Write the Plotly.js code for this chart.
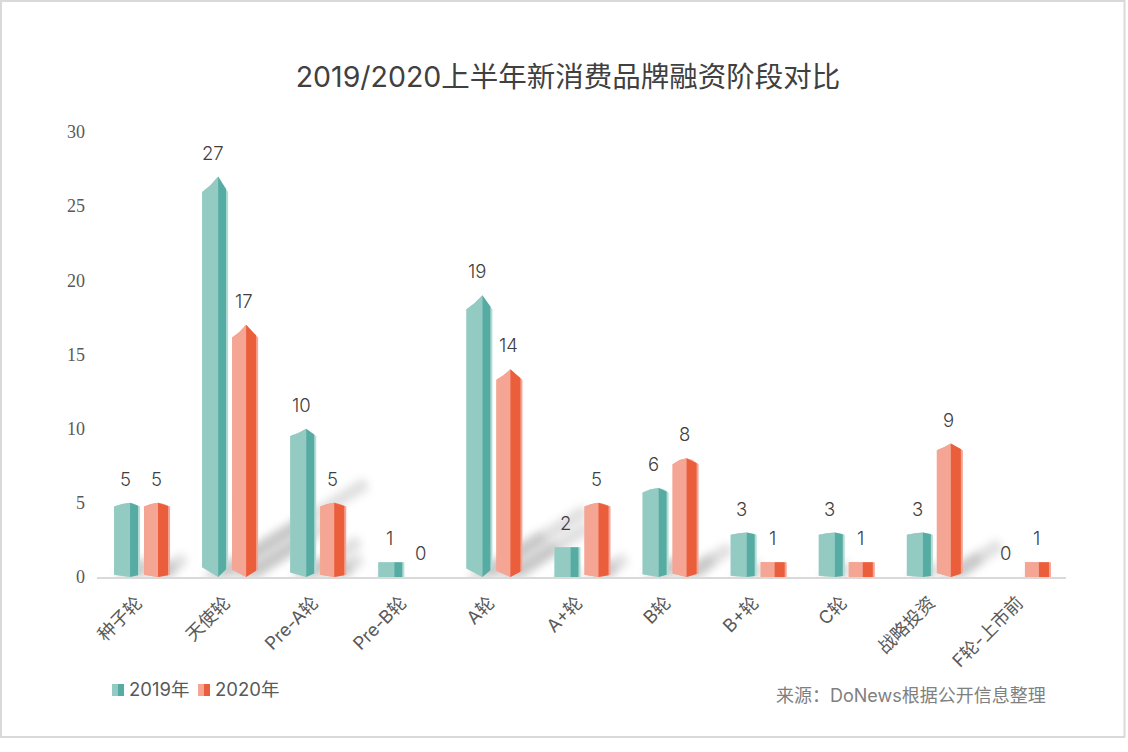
<!DOCTYPE html>
<html><head><meta charset="utf-8">
<script src="https://cdn.plot.ly/plotly-3.0.1.min.js"></script>
<style>html,body{margin:0;padding:0;background:#fff}#c{width:1128px;height:752px}</style>
</head><body><div id="c"></div>
<script>
const categories = ["种子轮","天使轮","Pre-A轮","Pre-B轮","A轮","A+轮","B轮","B+轮","C轮","战略投资","F轮-上市前"];
const values2019 = [5,27,10,1,19,2,6,3,3,3,0];
const values2020 = [5,17,5,0,14,5,8,1,1,9,1];
const seriesNames = ["2019年","2020年"];
const chartTitle = "2019/2020上半年新消费品牌融资阶段对比";
const sourceNote = "来源：DoNews根据公开信息整理";
const yTicks = [0,5,10,15,20,25,30];

const W=1128,H=752,L=97,R=1066,T=132,B=577;
const slot=(R-L)/categories.length, unit=(B-T)/30;
const px=v=>v/slot;
const CJK="Inter, 'Noto Sans CJK SC', sans-serif";
const pX=x=>(x-L)/(R-L), pY=y=>(B-y)/(B-T);

const tipOf=v=>v<3?0:Math.min(0.05*v,1.05);
const footOf=v=>v<3?0:Math.min(0.03*v,0.65);
// small bars have a rounder shoulder than tall ones
const bulge=v=>v<=8?0.7:0.42;

function polys(vals,fn){const xs=[],ys=[];vals.forEach((v,i)=>{if(!v)return;fn(v,i).forEach(p=>{xs.push(p[0]);ys.push(p[1]);});xs.push(null);ys.push(null);});return{x:xs,y:ys};}
function trace(d,color,name){return{type:'scatter',mode:'lines',x:d.x,y:d.y,fill:'toself',fillcolor:color,line:{width:0,color:color},hoverinfo:'skip',showlegend:false,name:name||''};}

// bar geometry: [left, split, darkEnd, rightEdge] in pixels from the slot centre
function bar(vals,g,cLight,cDark,cEdge){
  const [a,s,d,e]=g.map(px);
  const sh=(v,f)=>v-tipOf(v)*(1-f);
  const outline=polys(vals,(v,i)=>[[i+a,footOf(v)],[i+s,0],[i+e,footOf(v)],[i+e,v-tipOf(v)],[i+(s+e)/2,sh(v,bulge(v))],[i+s,v],[i+(a+s)/2,sh(v,bulge(v))],[i+a,v-tipOf(v)]]);
  const light=polys(vals,(v,i)=>[[i+a,footOf(v)],[i+s,0],[i+s,v],[i+(a+s)/2,sh(v,bulge(v))],[i+a,v-tipOf(v)]]);
  const dark=polys(vals,(v,i)=>{const f=(d-s)/(e-s);return[[i+s,0],[i+d,footOf(v)*f],[i+d,v-tipOf(v)*f],[i+s,v]];});
  return [trace(outline,cEdge),trace(light,cLight),trace(dark,cDark)];
}
// soft cast shadow, scaled by bar value
function shadow(vals,g,frac,halfW){
  const [a,,,e]=g.map(px), c=(a+e)/2, hw=(e-a)/2*halfW;
  return polys(vals,(v,i)=>{const dx=0.0636*v*frac, dy=0.229*v*frac;return[[i+c-hw,0],[i+c+hw,0],[i+c+dx+hw*0.25,dy-0.2],[i+c+dx-hw*0.25,dy+0.5]];});
}
const g19=[-27,-11,-3,-1], g20=[3,17,27,29];
const shadowColor='rgba(120,120,120,0.24)';
const traces=[];
[[values2019,g19],[values2020,g20]].forEach(([v,g])=>{
  traces.push(trace(shadow(v,g,1,1),shadowColor));
  traces.push(trace(shadow(v,g,0.6,1),shadowColor));
});
const shadowCount=traces.length;
traces.push(...bar(values2019,g19,'#93CBC3','#56ABA3','#B4DDD7'));
traces.push(...bar(values2020,g20,'#F4A594','#EB5E3C','#F4A594'));

const annotations=[];
const lab=(x,v)=>annotations.push({x:x,y:v,xref:'x',yref:'y',text:String(v),showarrow:false,yshift:24,yanchor:'middle',xanchor:'center',font:{family:CJK,size:18.5,color:'#404040',weight:300}});
values2019.forEach((v,i)=>lab(i+px(-16),v));
values2020.forEach((v,i)=>lab(i+px(15),v));
const note=(x,y,t,size,color,anchor)=>annotations.push({xref:'paper',yref:'paper',x:pX(x),y:pY(y),text:t,showarrow:false,xanchor:anchor,yanchor:'middle',font:{family:CJK,size:size,color:color}});
note(127,689,seriesNames[0],18.5,'#595959','left');
note(213,689,seriesNames[1],18.5,'#595959','left');
note(773.5,695,sourceNote,18,'#808080','left');

const rect=(x0,y0,x1,y1,c)=>({type:'rect',xref:'paper',yref:'paper',x0:pX(x0),x1:pX(x1),y0:pY(y0),y1:pY(y1),fillcolor:c,line:{width:0}});
const shapes=[
  {type:'rect',xref:'paper',yref:'paper',x0:pX(1),x1:pX(1124.5),y0:pY(1),y1:pY(737),line:{color:'#D9D9D9',width:2},fillcolor:'rgba(0,0,0,0)'},
  rect(112,684,118,696,'#93CBC3'),rect(118,684,124,696,'#56ABA3'),
  rect(198,684,204,696,'#F4A594'),rect(204,684,210,696,'#EB5E3C')
];

const layout={
  width:W,height:H,paper_bgcolor:'#fff',plot_bgcolor:'#fff',showlegend:false,
  margin:{l:L,r:W-R,t:T,b:H-B,pad:0},
  title:{text:chartTitle,x:568/W,xref:'container',xanchor:'center',y:1-77/H,yref:'container',yanchor:'middle',font:{family:CJK,size:28.5,color:'#404040',weight:400}},
  xaxis:{range:[-0.5,categories.length-0.5],tickmode:'array',tickvals:categories.map((c,i)=>i),ticktext:categories,tickangle:-45,showgrid:false,zeroline:false,showline:true,linecolor:'#D9D9D9',linewidth:2,ticks:'',ticklabelstandoff:6,ticklabelshift:-4,tickfont:{family:CJK,size:18,color:'#595959'},automargin:false},
  yaxis:{range:[0,30],tickmode:'array',tickvals:yTicks,showgrid:false,zeroline:false,showline:false,ticks:'',ticklabelstandoff:11,tickfont:{family:"'Liberation Serif',serif",size:18,color:'#595959'},automargin:false},
  annotations,shapes
};
Plotly.newPlot('c',traces,layout,{displayModeBar:false,staticPlot:true}).then(gd=>{
  gd.querySelectorAll('.scatterlayer .trace').forEach((t,i)=>{if(i<shadowCount)t.style.filter='blur(4px)';});
});
</script></body></html>
